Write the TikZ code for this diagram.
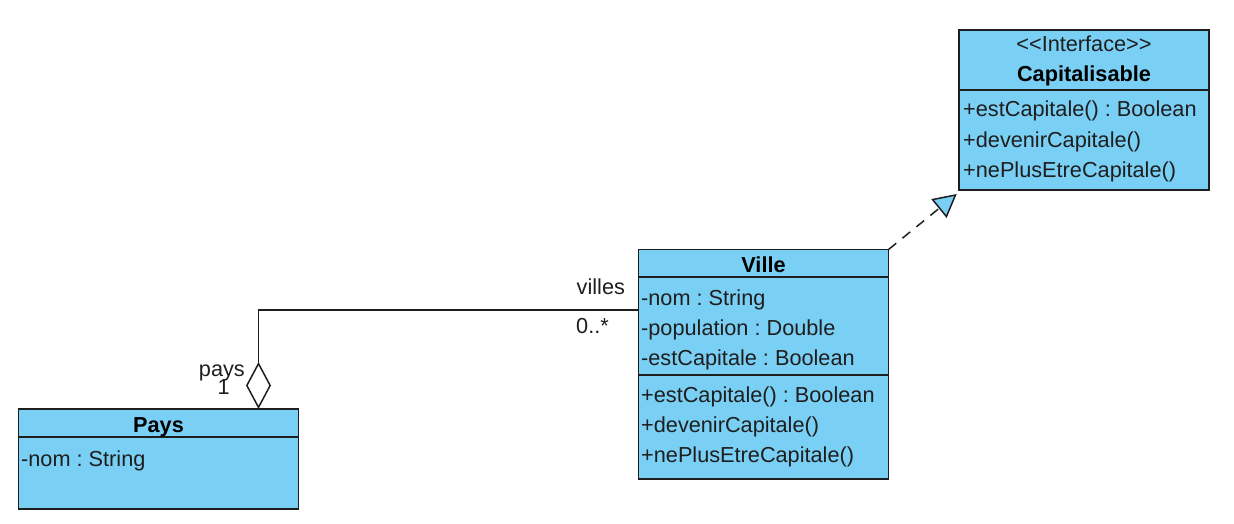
\documentclass[tikz,border=0pt]{standalone}
\usepackage{fontspec}
\setmainfont{Liberation Sans}
\usetikzlibrary{arrows.meta,calc}
\definecolor{boxfill}{HTML}{7ACFF4}
\definecolor{ink}{HTML}{1E1E1E}
\frenchspacing
\begin{document}
\begin{tikzpicture}[x=1pt,y=-1pt,
  font=\fontsize{21.7}{25}\selectfont\frenchspacing,
  cls/.style={draw=ink, fill=boxfill, line width=1.6pt, inner sep=0pt, outer sep=0pt},
  txt/.style={anchor=base west, inner sep=0pt, text=ink},
  ttl/.style={anchor=base, inner sep=0pt, font=\fontsize{21.7}{25}\selectfont\bfseries, text=black},
  lbl/.style={anchor=base east, inner sep=0pt, text=ink},
  lblw/.style={anchor=base west, inner sep=0pt, text=ink},
  sep/.style={draw=ink, line width=1.6pt},
  link/.style={draw=ink, line width=1.5pt}]
\useasboundingbox (0,0) rectangle (1234,524);

% Capitalisable interface
\node[cls, minimum width=249.5pt, minimum height=160pt] (cap) at (1084,110) {};
\draw[sep] ($(cap.north west)+(0,60)$) -- ($(cap.north east)+(0,60)$);
\node[txt, anchor=base] (capst) at (1084,52) {\textless\kern0pt\textless\kern0pt Interface\kern0pt\textgreater\kern0pt\textgreater};
\node[ttl] (capn) at (1084,82) {Capitalisable};
\node[txt] (cm1) at (963,117) {+estCapitale() : Boolean};
\node[txt] (cm2) at (963,147) {+devenirCapitale()};
\node[txt] (cm3) at (963,177) {+nePlusEtreCapitale()};

% Ville class
\node[cls, minimum width=250pt, minimum height=229.5pt] (ville) at (763.5,364.3) {};
\draw[sep] ($(ville.north west)+(0,27.5)$) -- ($(ville.north east)+(0,27.5)$);
\draw[sep] ($(ville.north west)+(0,125.5)$) -- ($(ville.north east)+(0,125.5)$);
\node[ttl] (villen) at (763.5,272) {Ville};
\node[txt] (va1) at (641,305) {-nom : String};
\node[txt] (va2) at (641,335) {-population : Double};
\node[txt] (va3) at (641,365) {-estCapitale : Boolean};
\node[txt] (vm1) at (641,402) {+estCapitale() : Boolean};
\node[txt] (vm2) at (641,432) {+devenirCapitale()};
\node[txt] (vm3) at (641,462) {+nePlusEtreCapitale()};

% Pays class
\node[cls, minimum width=280pt, minimum height=100pt] (pays) at (158.5,459) {};
\draw[sep] ($(pays.north west)+(0,28)$) -- ($(pays.north east)+(0,28)$);
\node[ttl] (paysn) at (158.5,432) {Pays};
\node[txt] (pa1) at (21,466) {-nom : String};

% Aggregation Pays <>-- Ville
\draw[link, {Diamond[open, length=47pt, width=25pt]}-]
  ($(pays.north west)+(240,0)$) |- ($(ville.north west)+(0,60.5)$);
\node[lbl] (lpays) at (245,376) {pays};
\node[lbl] (lone) at (230,394) {1};
\node[lblw] (lvilles) at (576.5,294) {villes};
\node[lblw] (lmult) at (576,333) {0..*};

% Realization Ville ..|> Capitalisable
\draw[link, dash pattern=on 10pt off 8pt, -{Triangle[length=23pt, width=24pt, fill=boxfill]}]
  (ville.north east) -- ($(cap.south west)+(-2.5,4)$);
\end{tikzpicture}
\end{document}
